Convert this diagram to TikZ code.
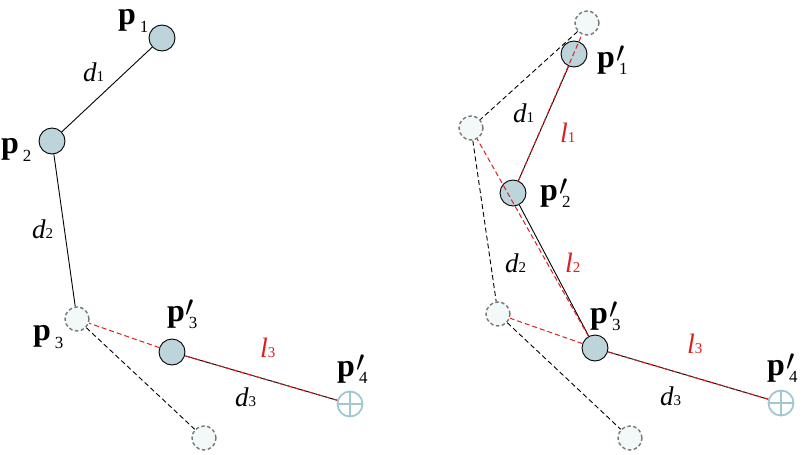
\documentclass[tikz,border=0pt]{standalone}
\usepackage{fontspec}
\setmainfont{Liberation Serif}
\usepackage{tikz}
\definecolor{jntfill}{RGB}{189,213,218}
\definecolor{ghostfill}{RGB}{243,248,249}
\definecolor{ghostdraw}{RGB}{120,120,120}
\definecolor{goalcol}{RGB}{160,200,208}
\definecolor{fabred}{RGB}{225,30,30}
\newcommand{\jlab}[1]{{\fontsize{32}{32}\selectfont\bfseries p}\kern4pt\raisebox{-8pt}{\fontsize{17}{17}\selectfont #1}}
\newcommand{\jlabn}[1]{{\fontsize{32}{32}\selectfont\bfseries p}\kern1pt\rlap{\raisebox{5pt}{\fontsize{24}{24}\selectfont\scalebox{1.2}{$\prime$}}}\kern3pt\raisebox{-7pt}{\fontsize{17}{17}\selectfont #1}}
\newcommand{\dlab}[1]{{\fontsize{27}{27}\selectfont\itshape d}{\fontsize{15}{15}\selectfont #1}}
\newcommand{\llab}[1]{\textcolor{fabred}{{\fontsize{28}{28}\selectfont\itshape l}{\fontsize{15}{15}\selectfont #1}}}
\tikzset{
jnt/.style={circle,draw,fill=jntfill,line width=0.9pt,minimum size=26pt,inner sep=0pt},
ghost/.style={circle,draw=ghostdraw,fill=ghostfill,line width=1.4pt,
  dash pattern=on 3.5pt off 2.5pt,minimum size=24pt,inner sep=0pt},
goal/.style={circle,draw=goalcol,line width=1.8pt,minimum size=25pt,inner sep=0pt,
  path picture={\draw[goalcol,line width=1.8pt]
    (path picture bounding box.north) -- (path picture bounding box.south)
    (path picture bounding box.west) -- (path picture bounding box.east);}},
lbl/.style={anchor=base west,inner sep=0pt},
link/.style={line width=0.9pt},
olink/.style={line width=0.9pt,dash pattern=on 5pt off 3pt},
rlink/.style={fabred,line width=1pt,dash pattern=on 5pt off 3pt},
}
\begin{document}
\begin{tikzpicture}[x=1pt,y=-1pt]
\useasboundingbox (0,0) rectangle (803,455);
% left: forward reaching, last joint
\node[jnt]   (a1)  at (162,38)  {};
\node[jnt]   (a2)  at (52,141)  {};
\node[ghost] (a3)  at (77,319)  {};
\node[ghost] (a4)  at (204,438) {};
\node[jnt]   (a3n) at (172,352) {};
\node[goal]  (ga)  at (350,404) {};
\draw[link]  (a1) -- (a2);
\draw[link]  (a2) -- (a3);
\draw[olink] (a3) -- (a4);
\draw[link]  (a3n) -- (ga);
\draw[rlink] (a3n) -- (a3);
\draw[rlink,yshift=-1.2pt] (ga) -- (a3n);
\node[lbl] (la1)  at (118,24)  {\jlab{1}};
\node[lbl] (la2)  at (1,153)   {\jlab{2}};
\node[lbl] (la3)  at (33,340)  {\jlab{3}};
\node[lbl] (la3n) at (167,321) {\jlabn{3}};
\node[lbl] (la4n) at (337,376) {\jlabn{4}};
\node[lbl] (lad1) at (83,81)   {\dlab{1}};
\node[lbl] (lad2) at (32,238)  {\dlab{2}};
\node[lbl] (lad3) at (235,406) {\dlab{3}};
\node[lbl] (lal3) at (260,357) {\llab{3}};
% right: whole chain moved
\node[ghost] (b1)  at (587,23)  {};
\node[ghost] (b2)  at (471,128) {};
\node[ghost] (b3)  at (498,314) {};
\node[ghost] (b4)  at (630,438) {};
\draw[olink] (b1) -- (b2);
\draw[olink] (b2) -- (b3);
\draw[olink] (b3) -- (b4);
\node[jnt]   (b1n) at (574,54)  {};
\node[jnt]   (b2n) at (513,193) {};
\node[jnt]   (b3n) at (595,348) {};
\node[goal]  (gb)  at (781,403) {};
\draw[link]  (b1n) -- (b2n);
\draw[link]  (b2n) -- (b3n);
\draw[link]  (b3n) -- (gb);
\draw[rlink] (b3n) -- (b3);
\draw[rlink] (b3n) -- (b2);
\draw[rlink] (b2n) -- (b1);
\draw[rlink,yshift=-1.2pt] (gb) -- (b3n);
\node[lbl] (lb1n) at (597,67)  {\jlabn{1}};
\node[lbl] (lb2n) at (540,200) {\jlabn{2}};
\node[lbl] (lb3n) at (590,323) {\jlabn{3}};
\node[lbl] (lb4n) at (767,375) {\jlabn{4}};
\node[lbl] (lbd1) at (513,122) {\dlab{1}};
\node[lbl] (lbd2) at (505,272) {\dlab{2}};
\node[lbl] (lbd3) at (660,405) {\dlab{3}};
\node[lbl] (lbl1) at (560,142) {\llab{1}};
\node[lbl] (lbl2) at (565,272) {\llab{2}};
\node[lbl] (lbl3) at (687,353) {\llab{3}};
\end{tikzpicture}
\end{document}
